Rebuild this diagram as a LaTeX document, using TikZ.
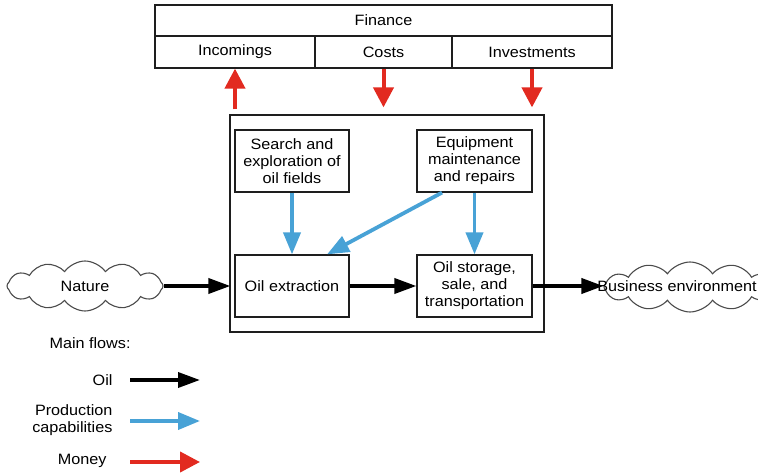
\documentclass[tikz,border=0pt]{standalone}
\usepackage{fontspec}
\setmainfont[FakeStretch=1.08]{Liberation Sans}
\usetikzlibrary{shapes.symbols,arrows.meta,calc}
\definecolor{flowblue}{RGB}{72,162,214}
\definecolor{flowred}{RGB}{226,42,32}
\definecolor{frame}{RGB}{30,30,30}
\begin{document}
\begin{tikzpicture}[x=1pt,y=-1pt,
  font=\fontsize{15}{17}\selectfont,
  box/.style={draw=frame,line width=1.2pt,rectangle,inner sep=0pt,align=center},
  cell/.style={box,minimum height=32pt},
  cloudy/.style={draw=frame!80,line width=1.1pt,cloud,cloud puffs=12,cloud puff arc=110,
                 aspect=3,minimum width=#1,minimum height=50pt,inner sep=0pt},
  oilflow/.style={line width=3.6pt,-{Triangle[length=22pt,width=15pt]}},
  capflow/.style={line width=3.8pt,flowblue,-{Triangle[length=22pt,width=17pt]}},
  cashflow/.style={line width=4pt,flowred,-{Triangle[length=20pt,width=20pt]}},
  legendtext/.style={anchor=east,align=right}
]
\clip (0,0) rectangle (758,473);

% finance table
\node[box,minimum width=457pt,minimum height=31pt] (finance) at (383.5,20.5) {Finance};
\node[cell,minimum width=160pt] (incomings) at (235,52) {Incomings};
\node[cell,minimum width=137pt] (costs) at (383.5,52) {Costs};
\node[cell,minimum width=160pt] (investments) at (532,52) {Investments};

% enterprise frame and activities
\node[box,minimum width=314pt,minimum height=217pt] (main) at (387,223.5) {};
\node[box,minimum width=114pt,minimum height=62pt] (search) at (292,161) {Search and\\exploration of\\oil fields};
\node[box,minimum width=115pt,minimum height=62pt] (equip) at (474.5,161) {Equipment\\maintenance\\and repairs};
\node[box,minimum width=114pt,minimum height=62pt] (extract) at (292,286) {Oil extraction};
\node[box,minimum width=115pt,minimum height=62pt] (store) at (474.5,286) {Oil storage,\\sale, and\\transportation};

% surroundings
\node[cloudy=156pt] (nature) at (85,286) {Nature};
\node[cloudy=172pt] (bizcloud) at (690,287) {};
\node (biz) at (677,286) {Business environment};

% money flows
\draw[cashflow] ([yshift=5pt]main.north -| incomings) -- (incomings.south);
\draw[cashflow] (costs.south) -- ([yshift=7pt]main.north -| costs);
\draw[cashflow] (investments.south) -- ([yshift=7pt]main.north -| investments);

% production capabilities
\draw[capflow] (search.south) -- (extract.north);
\draw[capflow] (equip.south) -- (store.north);
\draw[capflow] ([xshift=-32.5pt]equip.south) -- ([xshift=35pt]extract.north);

% oil flows
\draw[oilflow] (nature.east) -- ([xshift=-4pt]extract.west);
\draw[oilflow] (extract.east) -- (store.west);
\draw[oilflow] (store.east) -- (bizcloud.west |- store.east);

% legend
\node[anchor=west] (flows) at (46,343) {Main flows:};
\node[legendtext] (loil) at (116,380) {Oil};
\node[legendtext,font=\fontsize{15}{16.5}\selectfont] (lcap) at (116,420) {Production\\capabilities};
\node[legendtext] (lmoney) at (110,461) {Money};
\coordinate (oa) at (130,380); \coordinate (ob) at (200,380);
\coordinate (ca) at (130,421); \coordinate (cb) at (200,421);
\coordinate (ma) at (130,462); \coordinate (mb) at (200,462);
\draw[oilflow] (oa) -- (ob);
\draw[capflow] (ca) -- (cb);
\draw[cashflow] (ma) -- (mb);
\end{tikzpicture}
\end{document}
